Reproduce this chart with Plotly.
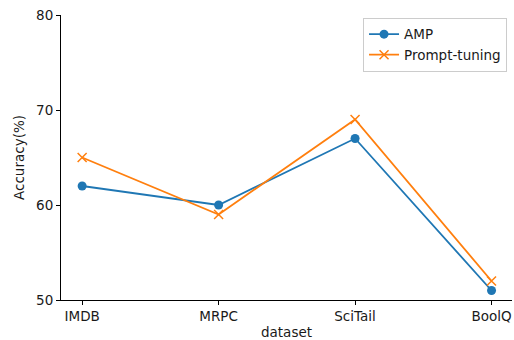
import plotly.graph_objects as go

categories = ["IMDB", "MRPC", "SciTail", "BoolQ"]
amp = [62, 60, 67, 51]
prompt_tuning = [65, 59, 69, 52]
y_ticks = [50, 60, 70, 80]

xpos = list(range(len(categories)))

fig = go.Figure()
fig.add_trace(go.Scatter(
    x=xpos, y=amp, name="AMP", mode="lines+markers",
    line=dict(color="#1f77b4", width=1.8),
    marker=dict(symbol="circle", size=9, color="#1f77b4"),
))
fig.add_trace(go.Scatter(
    x=xpos, y=prompt_tuning, name="Prompt-tuning", mode="lines+markers",
    line=dict(color="#ff7f0e", width=1.8),
    marker=dict(symbol="x-thin-open", size=9, line=dict(color="#ff7f0e", width=1.5)),
))

font = "DejaVu Sans, sans-serif"
fig.update_layout(
    width=514, height=340,
    margin=dict(l=61, r=2, t=15, b=40),
    plot_bgcolor="white", paper_bgcolor="white",
    font=dict(family=font, size=13.5, color="#1a1a1a"),
    showlegend=True,
    legend=dict(
        x=0.989, y=0.99, xanchor="right", yanchor="top",
        bgcolor="rgba(255,255,255,0.8)", bordercolor="#cccccc", borderwidth=1,
        font=dict(size=13.5), itemwidth=30, tracegroupgap=2,
    ),
    xaxis=dict(
        range=[-0.155, 3.15], tickvals=xpos, ticktext=categories,
        showline=True, linecolor="black", linewidth=1,
        ticks="outside", ticklen=4, tickcolor="black",
        showgrid=False, zeroline=False, automargin=False,
        title=dict(text="dataset", standoff=8, font=dict(size=13.5)),
    ),
    yaxis=dict(
        range=[50, 80], tickvals=y_ticks,
        showline=True, linecolor="black", linewidth=1,
        ticks="outside", ticklen=4, tickcolor="black",
        showgrid=False, zeroline=False, automargin=False,
        title=dict(text="Accuracy(%)", standoff=8, font=dict(size=13.5)),
    ),
)

fig.write_html("out.html")
